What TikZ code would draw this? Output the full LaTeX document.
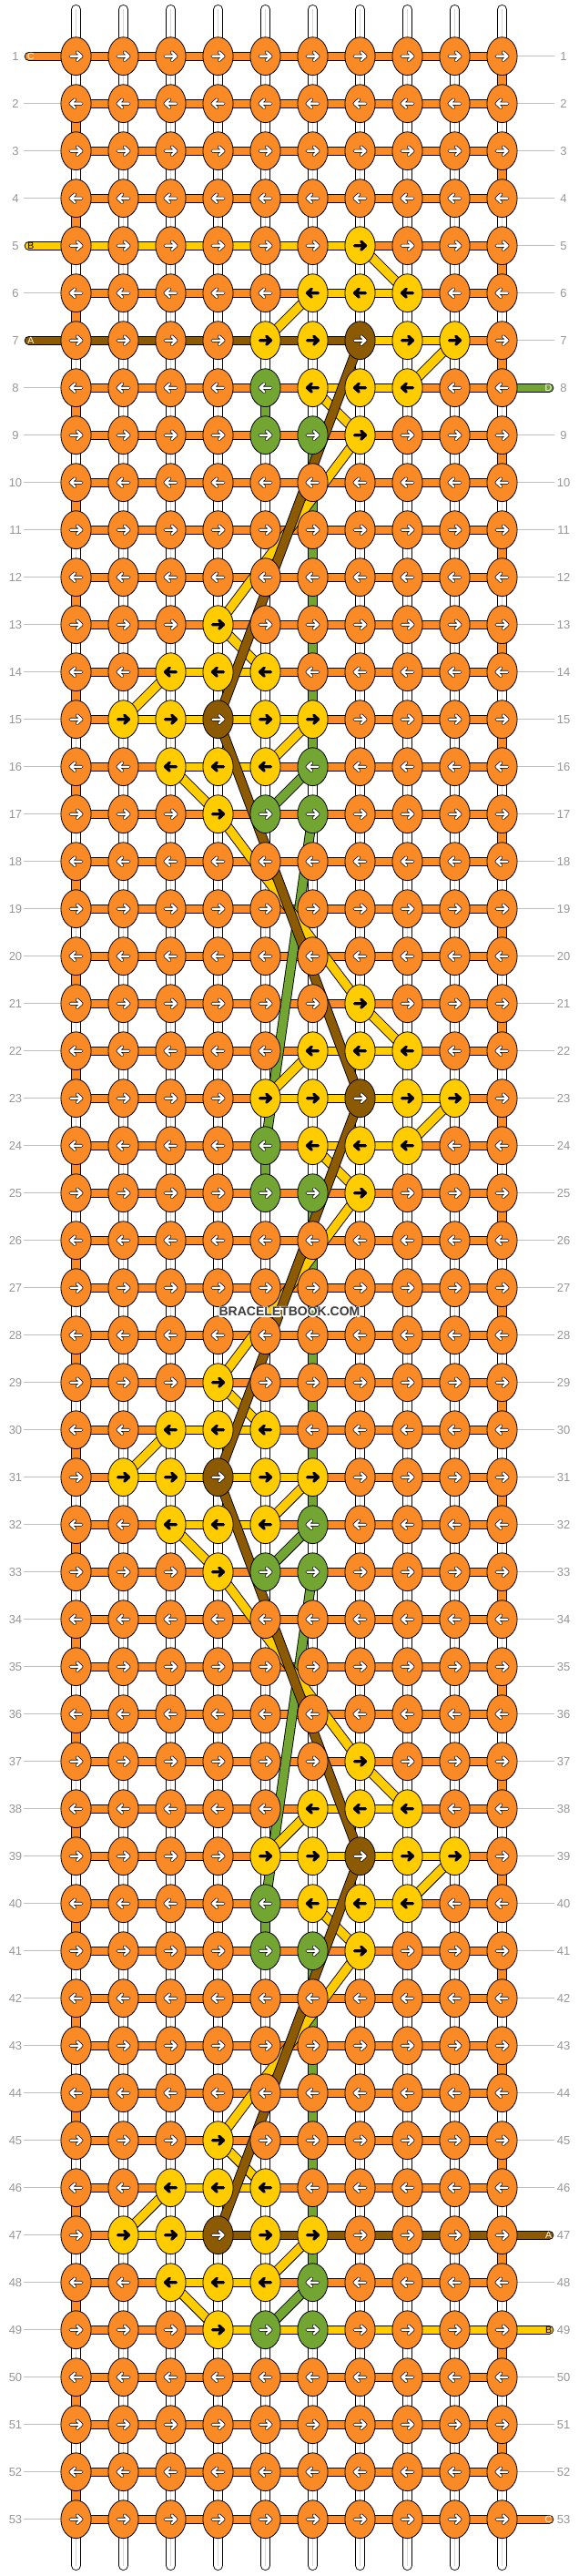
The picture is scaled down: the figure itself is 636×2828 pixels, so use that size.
\documentclass[tikz,border=0pt]{standalone}
\usepackage{fontspec}
\setmainfont{Liberation Sans}
\usetikzlibrary{shapes.geometric}

\definecolor{korange}{RGB}{249,138,38}
\definecolor{kyellow}{RGB}{255,204,0}
\definecolor{kgreen}{RGB}{115,165,50}
\definecolor{kbrown}{RGB}{139,90,3}
\definecolor{labelgray}{RGB}{150,150,150}
\definecolor{linegray}{RGB}{192,192,192}
\definecolor{warpgray}{RGB}{215,215,215}
\definecolor{wmgray}{RGB}{60,60,60}

\tikzset{
  strand/.style={draw=black, line width=0.9pt, double=#1, double distance=8.2pt},
  carry/.style={draw=black, line width=0.9pt, double=#1, double distance=9.2pt},
  warp/.style={draw=black, line width=0.9pt, double=#1, double distance=9.2pt},
  knot/.style={ellipse, draw=black, line width=0.8pt, fill=#1, minimum width=33.2pt, minimum height=41.8pt, inner sep=0pt},
  warrow/.style={draw=black, line width=0.7pt, double=white, double distance=2.4pt, line cap=round, line join=round},
  barrow/.style={draw=black, line width=3.3pt, line cap=round, line join=round},
  rowlabel/.style={text=labelgray, inner sep=0pt, font=\fontsize{13}{15}\selectfont},
  rowline/.style={draw=linegray, line width=1pt},
  endletter/.style={inner sep=0pt, text=#1, font=\fontsize{10.5}{12}\selectfont},
  wm/.style={inner sep=0pt, font=\bfseries\fontsize{14}{16}\selectfont},
}
\def\yellowname{kyellow}

\begin{document}
\begin{tikzpicture}[x=1pt, y=-1pt]
  \useasboundingbox (0,0) rectangle (636,2828);

  % knot positions
  \foreach \r in {1,...,53}
    \foreach \c in {1,...,10}
      \coordinate (k\r-\c) at ({31.5+52*\c},{9.7+52*\r});

  % knots that are not orange
  \foreach \b in {0,16,32}{
    \foreach \dr/\c/\col in {0/7/kyellow, 1/6/kyellow, 1/7/kyellow, 1/8/kyellow,
        2/5/kyellow, 2/6/kyellow, 2/7/kbrown, 2/8/kyellow, 2/9/kyellow,
        3/5/kgreen, 3/6/kyellow, 3/7/kyellow, 3/8/kyellow, 4/5/kgreen, 4/6/kgreen, 4/7/kyellow}{
      \pgfmathtruncatemacro\r{5+\b+\dr}
      \expandafter\xdef\csname kc\r-\c\endcsname{\col}
    }
    \foreach \dr/\c/\col in {0/4/kyellow, 1/3/kyellow, 1/4/kyellow, 1/5/kyellow,
        2/2/kyellow, 2/3/kyellow, 2/4/kbrown, 2/5/kyellow, 2/6/kyellow,
        3/3/kyellow, 3/4/kyellow, 3/5/kyellow, 3/6/kgreen, 4/4/kyellow, 4/5/kgreen, 4/6/kgreen}{
      \pgfmathtruncatemacro\r{13+\b+\dr}
      \expandafter\xdef\csname kc\r-\c\endcsname{\col}
    }
  }

  % row numbers
  \foreach \r in {1,...,53}{
    \node[rowlabel] (ll\r) at (17,{9.7+52*\r}) {\r};
    \node[rowlabel] (rl\r) at (619,{9.7+52*\r}) {\r};
  }
  \foreach \r in {2,3,4,6,8,9,...,53}
    \draw[rowline] ([xshift=9pt]ll\r.center) -- (k\r-1);
  \foreach \r in {1,...,7,9,10,...,46,48,50,51,52}
    \draw[rowline] (k\r-10) -- ([xshift=-10pt]rl\r.center);

  % base strings
  \foreach \c in {1,...,10}{
    \coordinate (top\c) at ({31.5+52*\c},10.5);
    \coordinate (bot\c) at ({31.5+52*\c},2816.5);
    \draw[warp=white, line cap=round] (top\c) -- (bot\c);
    \draw[warpgray, line width=1pt] (top\c) -- (bot\c);
  }

  % turns at the edges
  \foreach \r in {2,4,...,52}{
    \pgfmathtruncatemacro\rn{\r+1}
    \draw[warp=korange] (k\r-1) -- (k\rn-1);
  }
  \foreach \r in {1,3,...,51}{
    \pgfmathtruncatemacro\rn{\r+1}
    \draw[warp=korange] (k\r-10) -- (k\rn-10);
  }

  % green running down
  \foreach \b in {0,16,32}{
    \pgfmathtruncatemacro\ra{8+\b}
    \pgfmathtruncatemacro\rb{9+\b}
    \pgfmathtruncatemacro\rc{16+\b}
    \draw[warp=kgreen] (k\ra-5) -- (k\rb-5);
    \draw[warp=kgreen] (k\rb-6) -- (k\rc-6);
  }

  % rows
  \foreach \r in {1,...,53}
    \draw[strand=korange] (k\r-1) -- (k\r-10);
  \foreach \b in {0,16,32}
    \foreach \dr/\ca/\cb in {6/6/8, 7/5/9, 8/6/8, 14/3/5, 15/2/6, 16/3/5}{
      \pgfmathtruncatemacro\r{\dr+\b}
      \draw[strand=kyellow] (k\r-\ca) -- (k\r-\cb);
    }

  % threads in and out
  \coordinate (in1) at (31.7,61.7);
  \coordinate (in5) at (31.7,269.7);
  \coordinate (in7) at (31.7,373.7);
  \coordinate (out8) at (603.3,425.7);
  \coordinate (out47) at (603.3,2453.7);
  \coordinate (out49) at (603.3,2557.7);
  \coordinate (out53) at (603.3,2765.7);
  \draw[strand=korange, line cap=round] (in1) -- (k1-1);
  \draw[strand=kyellow, line cap=round] (in5) -- (k5-7);
  \draw[strand=kbrown, line cap=round] (in7) -- (k7-7);
  \draw[strand=kgreen, line cap=round] (k8-10) -- (out8);
  \draw[strand=kbrown, line cap=round] (k47-4) -- (out47);
  \draw[strand=kyellow, line cap=round] (k49-4) -- (out49);
  \draw[strand=korange, line cap=round] (k53-10) -- (out53);
  \node[endletter=white] (inC) at (34,61.7) {C};
  \node[endletter=black] (inB) at (34,269.7) {B};
  \node[endletter=white] (inA) at (34,373.7) {A};
  \node[endletter=white] (outD) at (602.5,425.7) {D};
  \node[endletter=white] (outA) at (602.5,2453.7) {A};
  \node[endletter=black] (outB) at (602.5,2557.7) {B};
  \node[endletter=white] (outC) at (602.5,2765.7) {C};

  % threads carried behind
  \foreach \b in {0,16,32}{
    \pgfmathtruncatemacro\ra{16+\b}
    \pgfmathtruncatemacro\rb{17+\b}
    \draw[carry=kgreen] (k\ra-6) -- (k\rb-5);
  }
  \draw[carry=kgreen] (k17-6) -- (k24-5);
  \draw[carry=kgreen] (k33-6) -- (k40-5);
  \foreach \b in {0,16,32}
    \foreach \ra/\ca/\rb/\cb in {5/7/6/8, 6/6/7/5, 7/9/8/8, 8/6/9/7, 9/7/13/4,
        13/4/14/5, 14/3/15/2, 15/6/16/5, 16/3/17/4}{
      \pgfmathtruncatemacro\ta{\ra+\b}
      \pgfmathtruncatemacro\tb{\rb+\b}
      \draw[carry=kyellow] (k\ta-\ca) -- (k\tb-\cb);
    }
  \draw[carry=kyellow] (k17-4) -- (k21-7);
  \draw[carry=kyellow] (k33-4) -- (k37-7);
  \draw[carry=kbrown] (k7-7) -- (k15-4) -- (k23-7) -- (k31-4) -- (k39-7) -- (k47-4);

  % knots
  \foreach \r in {1,...,53}{
    \ifodd\r\relax \def\dir{1}\else \def\dir{-1}\fi
    \foreach \c in {1,...,10}{
      \ifcsname kc\r-\c\endcsname
        \edef\kcol{\csname kc\r-\c\endcsname}
      \else
        \def\kcol{korange}
      \fi
      \ifx\kcol\yellowname \tikzset{arr/.style=barrow}\else \tikzset{arr/.style=warrow}\fi
      \node[knot=\kcol] (n\r-\c) at (k\r-\c) {};
      \draw[arr, shift={(k\r-\c)}, xscale=\dir] (-6,0) -- (6,0) (1.2,-4.4) -- (6,0) -- (1.2,4.4);
    }
  }

  % watermark
  \node[wm, text=white] (wmh) at (318,1440) {\special{pdf:code 1 Tr 2.6 w 1 1 1 RG 1 j}BRACELETBOOK.COM\special{pdf:code 0 Tr}};
  \node[wm, text=wmgray] (wm) at (318,1440) {BRACELETBOOK.COM};
\end{tikzpicture}
\end{document}
